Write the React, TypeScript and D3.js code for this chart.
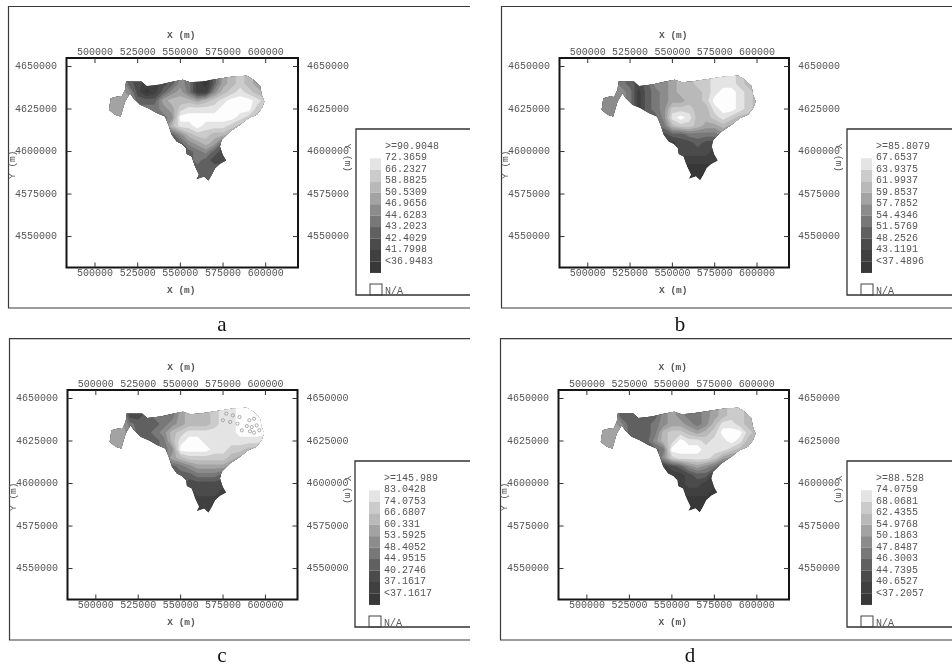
import React from 'react';
import * as d3 from 'd3';

// map coordinates are UTM metres
const xTicks = [500000, 525000, 550000, 575000, 600000];
const yTicks = [4650000, 4625000, 4600000, 4575000, 4550000];
const xDomain = [483300, 618900];
const yDomain = [4531800, 4655000];

const legendA = ['>=90.9048', '72.3659', '66.2327', '58.8825', '50.5309', '46.9656', '44.6283', '43.2023', '42.4029', '41.7998', '<36.9483'];
const legendB = ['>=85.8079', '67.6537', '63.9375', '61.9937', '59.8537', '57.7852', '54.4346', '51.5769', '48.2526', '43.1191', '<37.4896'];
const legendC = ['>=145.989', '83.0428', '74.0753', '66.6807', '60.331', '53.5925', '48.4052', '44.9515', '40.2746', '37.1617', '<37.1617'];
const legendD = ['>=88.528', '74.0759', '68.0681', '62.4355', '54.9768', '50.1863', '47.8487', '46.3003', '44.7395', '40.6527', '<37.2057'];

// grey per class, darkest class first
const classGreys = ['#393939', '#3f3f3f', '#4c4c4c', '#606060', '#787878', '#8c8c8c', '#a3a3a3', '#b9b9b9', '#cbcbcb', '#e4e4e4', '#fdfdfd'];
const classThresholds = [0.5, 1.5, 2.5, 3.5, 4.5, 5.5, 6.5, 7.5, 8.5, 9.5];

// sampling grid of the class values below, metres
const gridWest = 505000;
const gridNorth = 4645000;
const gridStep = 5000;

const outlineEastings = [518200, 527300, 530300, 538100, 545900, 551400, 555700, 561500, 571300, 581000, 588900, 592800, 596700, 597700, 599200, 597700, 594700, 589800, 585000, 579100, 574200, 573200, 574800, 576800, 573200, 570300, 568400, 566400, 563900, 559600, 560900, 558600, 556600, 553700, 553300, 550800, 547800, 544900, 543000, 541000, 536100, 531200, 526400, 522500, 520500, 517600, 515000, 511700, 508200, 509200, 513100, 515600, 517600];
const outlineNorthings = [4641200, 4641200, 4638600, 4639400, 4641200, 4642200, 4640800, 4641200, 4642600, 4644100, 4644500, 4642200, 4638600, 4633300, 4629400, 4625500, 4621600, 4619600, 4615700, 4611800, 4606900, 4603000, 4598100, 4594700, 4592800, 4590200, 4586300, 4583000, 4585300, 4583800, 4586300, 4591200, 4597100, 4598600, 4602000, 4604500, 4605900, 4609800, 4615700, 4620600, 4622600, 4625500, 4627500, 4631400, 4634300, 4629400, 4620600, 4621600, 4624500, 4631400, 4632400, 4632000, 4636300];

const gridA = [
  [6, 6, 6, 3, 2, 1, 1, 2, 3, 5, 4, 1, 0, 3, 6, 7, 8, 7, 6, 6, 6],
  [6, 6, 6, 3, 2, 1, 1, 2, 3, 5, 4, 1, 0, 3, 6, 7, 8, 7, 6, 6, 6],
  [6, 6, 6, 5, 2, 0, 1, 3, 5, 6, 4, 1, 1, 5, 7, 8, 9, 8, 7, 6, 6],
  [6, 6, 6, 6, 3, 3, 3, 6, 7, 7, 7, 6, 7, 8, 9, 10, 10, 10, 9, 8, 7],
  [6, 6, 6, 6, 4, 4, 4, 5, 6, 8, 9, 9, 9, 9, 10, 10, 10, 10, 8, 7, 7],
  [6, 6, 6, 6, 4, 4, 4, 4, 5, 10, 10, 10, 10, 10, 10, 10, 9, 8, 7, 7, 7],
  [6, 6, 6, 4, 4, 4, 4, 4, 7, 9, 9, 10, 9, 9, 9, 8, 7, 6, 6, 6, 6],
  [3, 3, 3, 3, 3, 3, 3, 3, 3, 5, 7, 8, 8, 7, 7, 6, 6, 6, 6, 6, 6],
  [3, 3, 3, 3, 3, 3, 3, 3, 3, 3, 5, 6, 7, 6, 3, 6, 6, 6, 6, 6, 6],
  [3, 3, 3, 3, 3, 3, 3, 3, 3, 3, 3, 4, 5, 3, 2, 2, 2, 2, 2, 2, 2],
  [3, 3, 3, 3, 3, 3, 3, 3, 3, 3, 3, 4, 3, 2, 2, 2, 2, 2, 2, 2, 2],
  [3, 3, 3, 3, 3, 3, 3, 3, 3, 3, 3, 3, 3, 3, 3, 3, 3, 3, 3, 3, 3],
  [3, 3, 3, 3, 3, 3, 3, 3, 3, 3, 3, 3, 3, 3, 3, 3, 3, 3, 3, 3, 3],
  [3, 3, 3, 3, 3, 3, 3, 3, 3, 3, 3, 3, 3, 3, 3, 3, 3, 3, 3, 3, 3],
];

const gridB = [
  [5, 5, 5, 4, 3, 2, 3, 5, 5, 6, 7, 7, 8, 8, 9, 9, 9, 8, 7, 7, 7],
  [5, 5, 5, 4, 3, 2, 3, 5, 5, 6, 7, 7, 8, 8, 9, 9, 9, 8, 7, 7, 7],
  [5, 5, 5, 5, 4, 1, 3, 4, 5, 6, 7, 7, 7, 8, 9, 10, 10, 9, 8, 7, 7],
  [5, 5, 5, 5, 4, 1, 3, 4, 5, 6, 6, 7, 7, 8, 10, 10, 10, 9, 8, 7, 7],
  [5, 5, 5, 5, 4, 1, 3, 4, 5, 8, 8, 8, 7, 7, 9, 10, 10, 9, 8, 7, 7],
  [5, 5, 5, 5, 3, 3, 3, 3, 5, 9, 10, 9, 7, 7, 8, 9, 8, 7, 7, 7, 7],
  [4, 4, 4, 4, 4, 4, 4, 4, 4, 7, 8, 8, 7, 6, 6, 7, 6, 6, 6, 6, 6],
  [2, 2, 2, 2, 2, 2, 2, 2, 2, 3, 3, 4, 4, 4, 4, 5, 5, 5, 5, 5, 5],
  [1, 1, 1, 1, 1, 1, 1, 1, 1, 1, 2, 2, 3, 2, 2, 2, 2, 2, 2, 2, 2],
  [1, 1, 1, 1, 1, 1, 1, 1, 1, 1, 2, 2, 2, 2, 1, 1, 1, 1, 1, 1, 1],
  [1, 1, 1, 1, 1, 1, 1, 1, 1, 1, 1, 1, 1, 1, 1, 1, 1, 1, 1, 1, 1],
  [0, 0, 0, 0, 0, 0, 0, 0, 0, 0, 0, 0, 0, 0, 0, 0, 0, 0, 0, 0, 0],
  [0, 0, 0, 0, 0, 0, 0, 0, 0, 0, 0, 0, 0, 0, 0, 0, 0, 0, 0, 0, 0],
  [0, 0, 0, 0, 0, 0, 0, 0, 0, 0, 0, 0, 0, 0, 0, 0, 0, 0, 0, 0, 0],
];

const gridC = [
  [6, 6, 6, 2, 2, 3, 4, 4, 4, 6, 7, 7, 7, 8, 9, 9, 10, 10, 10, 10, 10],
  [6, 6, 6, 2, 2, 3, 4, 4, 4, 6, 7, 7, 7, 8, 9, 9, 10, 10, 10, 10, 10],
  [6, 6, 6, 4, 3, 3, 3, 4, 5, 6, 7, 7, 7, 8, 9, 9, 10, 10, 10, 10, 10],
  [6, 6, 6, 5, 3, 3, 4, 5, 7, 8, 9, 9, 9, 9, 9, 9, 10, 10, 10, 10, 10],
  [6, 6, 6, 5, 3, 3, 3, 4, 7, 9, 10, 10, 9, 9, 9, 9, 9, 9, 9, 8, 8],
  [6, 6, 6, 5, 3, 3, 3, 4, 5, 10, 10, 10, 10, 9, 9, 8, 8, 7, 7, 7, 7],
  [4, 4, 4, 4, 4, 4, 4, 4, 6, 7, 8, 8, 8, 8, 8, 7, 6, 6, 6, 6, 6],
  [3, 3, 3, 3, 3, 3, 3, 3, 3, 4, 5, 6, 6, 6, 6, 5, 5, 5, 5, 5, 5],
  [3, 3, 3, 3, 3, 3, 3, 3, 3, 3, 3, 4, 4, 4, 3, 3, 3, 3, 3, 3, 3],
  [3, 3, 3, 3, 3, 3, 3, 3, 3, 3, 2, 2, 2, 2, 2, 2, 2, 2, 2, 2, 2],
  [1, 1, 1, 1, 1, 1, 1, 1, 1, 1, 1, 2, 2, 2, 1, 1, 1, 1, 1, 1, 1],
  [1, 1, 1, 1, 1, 1, 1, 1, 1, 1, 1, 1, 1, 1, 1, 1, 1, 1, 1, 1, 1],
  [1, 1, 1, 1, 1, 1, 1, 1, 1, 1, 1, 1, 1, 1, 1, 1, 1, 1, 1, 1, 1],
  [1, 1, 1, 1, 1, 1, 1, 1, 1, 1, 1, 1, 1, 1, 1, 1, 1, 1, 1, 1, 1],
];

const gridD = [
  [6, 6, 6, 3, 3, 3, 3, 3, 5, 6, 5, 4, 4, 5, 6, 7, 8, 8, 7, 7, 7],
  [6, 6, 6, 3, 3, 3, 3, 3, 5, 6, 5, 4, 4, 5, 6, 7, 8, 8, 7, 7, 7],
  [6, 6, 6, 5, 3, 3, 3, 4, 5, 6, 6, 5, 4, 5, 7, 9, 9, 8, 7, 6, 6],
  [6, 6, 6, 6, 3, 3, 3, 4, 7, 8, 8, 7, 6, 7, 8, 10, 10, 10, 8, 7, 7],
  [6, 6, 6, 6, 3, 3, 3, 5, 7, 8, 10, 9, 9, 8, 9, 9, 10, 9, 7, 7, 7],
  [6, 6, 6, 6, 3, 3, 3, 3, 4, 10, 10, 10, 10, 9, 9, 9, 8, 7, 7, 7, 7],
  [3, 3, 3, 3, 3, 3, 3, 3, 5, 8, 9, 9, 9, 9, 8, 6, 5, 5, 5, 5, 5],
  [1, 1, 1, 1, 1, 1, 1, 1, 1, 2, 3, 5, 6, 5, 4, 2, 2, 2, 2, 2, 2],
  [0, 0, 0, 0, 0, 0, 0, 0, 0, 1, 1, 2, 3, 3, 1, 1, 1, 1, 1, 1, 1],
  [1, 1, 1, 1, 1, 1, 1, 1, 1, 1, 1, 2, 2, 1, 1, 1, 1, 1, 1, 1, 1],
  [1, 1, 1, 1, 1, 1, 1, 1, 1, 1, 1, 1, 1, 1, 0, 0, 0, 0, 0, 0, 0],
  [0, 0, 0, 0, 0, 0, 0, 0, 0, 0, 0, 0, 0, 0, 0, 0, 0, 0, 0, 0, 0],
  [0, 0, 0, 0, 0, 0, 0, 0, 0, 0, 0, 0, 0, 0, 0, 0, 0, 0, 0, 0, 0],
  [0, 0, 0, 0, 0, 0, 0, 0, 0, 0, 0, 0, 0, 0, 0, 0, 0, 0, 0, 0, 0],
];

// the mottled north-east corner of map c
const speckleEastings = [590500, 593300, 594800, 591900, 589000, 596400, 593300, 590900, 576900, 580800, 584700, 574900, 579200, 583500, 586100];
const speckleNorthings = [4637200, 4638100, 4634200, 4633200, 4633800, 4631300, 4629900, 4630700, 4641100, 4640100, 4639100, 4637200, 4636200, 4635200, 4631300];

const panelLayouts = [
  { id: 'a', grid: gridA, legend: legendA, outer: [8.5, 6.5, 470, 308], frame: [66.5, 58, 298, 267.5], legendBox: [356, 129, 470, 295], caption: [222, 331] },
  { id: 'b', grid: gridB, legend: legendB, outer: [501.5, 6.5, 952, 308], frame: [559.5, 58, 789, 267.5], legendBox: [847, 129, 952, 295], caption: [680, 331] },
  { id: 'c', grid: gridC, legend: legendC, outer: [9.5, 338.7, 470, 640], frame: [67.5, 390, 297.5, 599.5], legendBox: [355, 461, 470, 627], caption: [222, 662] },
  { id: 'd', grid: gridD, legend: legendD, outer: [500.5, 338.7, 952, 640], frame: [558.5, 390, 789, 599.5], legendBox: [847, 461, 952, 627], caption: [690, 662] },
];

const monoFont = '"Liberation Mono", "DejaVu Sans Mono", monospace';
const TEXT_GREY = '#555';

function Panel({ layout }) {
  const { id, grid, legend, outer, frame, legendBox, caption } = layout;
  const [left, top, right, bottom] = frame;
  const xScale = d3.scaleLinear().domain(xDomain).range([left, right]);
  const yScale = d3.scaleLinear().domain(yDomain).range([bottom, top]);

  // contour coordinates put sample i at i + 0.5
  const projection = d3.geoTransform({
    point(cx, cy) {
      this.stream.point(
        xScale(gridWest + (cx - 0.5) * gridStep),
        yScale(gridNorth - (cy - 0.5) * gridStep)
      );
    },
  });
  const bandPath = d3.geoPath(projection);
  const values = grid.flat();
  const bands = d3.contours().size([grid[0].length, grid.length]).smooth(true).thresholds(classThresholds)(values);

  const outline = d3.line()
    .x((e, i) => xScale(e))
    .y((e, i) => yScale(outlineNorthings[i]))
    .curve(d3.curveLinearClosed)(outlineEastings);

  const clipId = `outline-${id}`;
  const swatchTop = legendBox[1] + 29.3;
  const labelStep = 11.5;
  const tx = legendBox[0] + 14;
  const swatches = classGreys.slice(0, 10);

  return (
    <g>
      <clipPath id={clipId}><path d={outline} /></clipPath>

      <path d={`M${outer[2]},${outer[1]}H${outer[0]}V${outer[3]}H${outer[2]}`} fill="none" stroke="#3a3a3a" strokeWidth={1.2} />
      <rect x={left} y={top} width={right - left} height={bottom - top} fill="#fff" stroke="#141414" strokeWidth={2} />

      <g filter="url(#mapBlur)">
        <g clipPath={`url(#${clipId})`}>
          <path d={outline} fill={classGreys[0]} />
          {bands.map((band, i) => (
            <path key={i} d={bandPath(band)} fill={classGreys[i + 1]} />
          ))}
          {id === 'c' && speckleEastings.map((e, i) => (
            <circle key={i} cx={xScale(e)} cy={yScale(speckleNorthings[i])} r={1.6} fill="none" stroke="#8f8f8f" strokeWidth={0.7} />
          ))}
        </g>
      </g>

      <g filter="url(#textBlur)" fontFamily={monoFont} fontSize={10} fill={TEXT_GREY}>
        {xTicks.map(t => (
          <g key={t}>
            <line x1={xScale(t)} x2={xScale(t)} y1={top} y2={top + 5} stroke="#333" />
            <line x1={xScale(t)} x2={xScale(t)} y1={bottom} y2={bottom - 5} stroke="#333" />
            <text x={xScale(t)} y={top - 3} textAnchor="middle">{t}</text>
            <text x={xScale(t)} y={bottom + 8.5} textAnchor="middle">{t}</text>
          </g>
        ))}
        {yTicks.map(t => (
          <g key={t}>
            <line x1={left} x2={left + 5} y1={yScale(t)} y2={yScale(t)} stroke="#333" />
            <line x1={right} x2={right - 5} y1={yScale(t)} y2={yScale(t)} stroke="#333" />
            <text x={left - 9.5} y={yScale(t) + 2.5} textAnchor="end">{t}</text>
            <text x={right + 9} y={yScale(t) + 2.5}>{t}</text>
          </g>
        ))}
        <text x={(left + right) / 2 - 1} y={top - 20} textAnchor="middle" fontSize={9.5} fontWeight={700}>X (m)</text>
        <text x={(left + right) / 2 - 1} y={bottom + 25} textAnchor="middle" fontSize={9.5} fontWeight={700}>X (m)</text>
        <text transform={`translate(${left - 51.5},${(top + bottom) / 2 + 2}) rotate(-90)`} textAnchor="middle" fontSize={9.5}>Y (m)</text>
        <text transform={`translate(${right + 47},${(top + bottom) / 2 - 5}) rotate(90)`} textAnchor="middle" fontSize={9.5}>Y (m)</text>

        <path d={`M${legendBox[2]},${legendBox[1]}H${legendBox[0]}V${legendBox[3]}H${legendBox[2]}`} fill="#fff" stroke="#333" strokeWidth={1.3} />
        {swatches.map((grey, i) => (
          <rect key={grey} x={tx} y={swatchTop + (9 - i) * 11.45} width={11} height={11.6} fill={grey} />
        ))}
        {legend.map((label, i) => (
          <text key={label} x={legendBox[0] + 29} y={legendBox[1] + 19.7 + i * labelStep}>{label}</text>
        ))}
        <rect x={tx} y={legendBox[3] - 11} width={12} height={11} fill="none" stroke="#444" />
        <text x={legendBox[0] + 29} y={legendBox[3] - 1}>N/A</text>
      </g>

      <text x={caption[0]} y={caption[1]} textAnchor="middle" fontFamily='"Liberation Serif", serif' fontSize={21} fill="#111">{id}</text>
    </g>
  );
}

export default function App() {
  return (
    <svg width={952} height={668} style={{ position: 'absolute', left: 0, top: 0, background: '#fff' }}>
      <defs>
        <filter id="mapBlur" x="-5%" y="-5%" width="110%" height="110%"><feGaussianBlur stdDeviation={0.7} /></filter>
        <filter id="textBlur" x="-2%" y="-2%" width="104%" height="104%"><feGaussianBlur stdDeviation={0.4} /></filter>
      </defs>
      {panelLayouts.map(layout => <Panel key={layout.id} layout={layout} />)}
    </svg>
  );
}
